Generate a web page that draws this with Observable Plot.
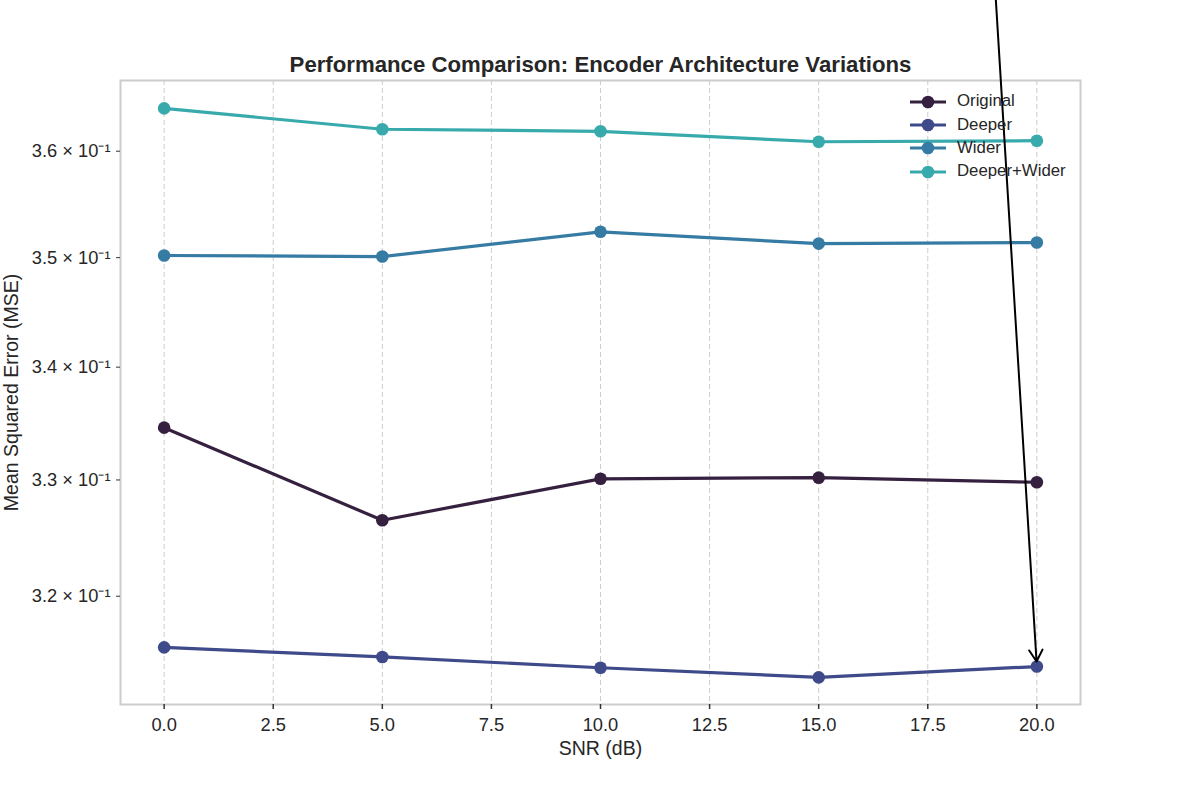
<!DOCTYPE html>
<html>
<head>
<meta charset="utf-8">
<script src="https://cdn.jsdelivr.net/npm/d3@7"></script>
<script src="https://cdn.jsdelivr.net/npm/@observablehq/plot@0.6"></script>
<style>
  html, body { margin: 0; padding: 0; background: #fff; }
  #wrap { position: relative; width: 1200px; height: 800px; font-family: "Liberation Sans", Arial, sans-serif; }
  #legend { position: absolute; left: 909px; top: 90px; pointer-events: none; }
  .li { display: flex; align-items: center; height: 23.4px; }
  .li svg { display: block; margin-right: 10px; }
  .li span { font-size: 16.8px; color: #262626; line-height: 1; }
</style>
</head>
<body>
<div id="wrap"><div id="chart"></div><div id="legend"></div></div>
<script>
const snr = [0, 5, 10, 15, 20];
const seriesNames = ["Original", "Deeper", "Wider", "Deeper+Wider"];
const colors = ["#35213f", "#3e4a89", "#357ba3", "#38aaac"];
const original = [0.3346, 0.3265, 0.3301, 0.3302, 0.3298];
const deeper = [0.3157, 0.3149, 0.3140, 0.3132, 0.3141];
const wider = [0.3502, 0.3501, 0.3524, 0.3513, 0.3514];
const deeperWider = [0.3641, 0.3621, 0.3619, 0.3609, 0.3610];
const xTicks = [0, 2.5, 5, 7.5, 10, 12.5, 15, 17.5, 20];
const yTicks = [0.32, 0.33, 0.34, 0.35, 0.36];
const yTickLabels = ["3.2 × 10⁻¹", "3.3 × 10⁻¹", "3.4 × 10⁻¹", "3.5 × 10⁻¹", "3.6 × 10⁻¹"];
const title = "Performance Comparison: Encoder Architecture Variations";
const xLabel = "SNR (dB)";
const yLabel = "Mean Squared Error (MSE)";
// annotation arrow: from (x1,y1) to the Deeper point at 20 dB
const arrowFrom = {x: 19.06, y: 0.3747};

const valuesBySeries = [original, deeper, wider, deeperWider];
const data = [];
seriesNames.forEach((s, i) => snr.forEach((x, j) => data.push({series: s, snr: x, mse: valuesBySeries[i][j]})));
const arrowData = [{x1: arrowFrom.x, y1: arrowFrom.y, x2: snr[4], y2: deeper[4]}];

const chart = Plot.plot({
  width: 1200,
  height: 800,
  marginTop: 80,
  marginRight: 120,
  marginBottom: 96,
  marginLeft: 120,
  style: {fontFamily: "'Liberation Sans', Arial, sans-serif", fontSize: "18px", color: "#262626", background: "transparent"},
  x: {domain: [-1, 21]},
  y: {type: "log", domain: [0.31096, 0.3668]},
  color: {domain: seriesNames, range: colors},
  marks: [
    Plot.gridX(xTicks, {stroke: "#cccccc", strokeOpacity: 1, strokeDasharray: "5,3", strokeWidth: 1}),
    Plot.frame({stroke: "#cccccc", strokeWidth: 2}),
    Plot.axisX({ticks: xTicks, tickFormat: d => d.toFixed(1), tickSize: 5, tickPadding: 8, stroke: "#333", strokeWidth: 1.5, fontSize: 18.3, label: null}),
    Plot.axisX({ticks: [], tickSize: 0, label: xLabel, labelAnchor: "center", labelArrow: "none", labelOffset: 50, fontSize: 19.5}),
    Plot.axisY({ticks: yTicks, tickFormat: d => yTickLabels[yTicks.indexOf(d)], tickSize: 4, tickPadding: 6, stroke: "#333", fontSize: 18.3, label: null}),
    Plot.axisY({ticks: [], tickSize: 0, label: yLabel, labelAnchor: "center", labelArrow: "none", labelOffset: 116, fontSize: 19.5}),
    Plot.line(data, {x: "snr", y: "mse", z: "series", stroke: "series", strokeWidth: 3.2}),
    Plot.dot(data, {x: "snr", y: "mse", fill: "series", r: 6.3}),
    Plot.arrow(arrowData, {x1: "x1", y1: "y1", x2: "x2", y2: "y2", stroke: "black", strokeWidth: 2, headLength: 10, insetEnd: 5}),
    Plot.text([title], {text: d => d, frameAnchor: "top", dy: -24, fontSize: 22.2, fontWeight: "bold", fill: "#262626"})
  ]
});
document.getElementById("chart").appendChild(chart);

const legend = document.getElementById("legend");
seriesNames.forEach((s, i) => {
  const row = document.createElement("div");
  row.className = "li";
  row.innerHTML = `<svg width="38" height="16"><line x1="1" y1="8" x2="37" y2="8" stroke="${colors[i]}" stroke-width="3.2"/><circle cx="19" cy="8" r="6.3" fill="${colors[i]}"/></svg><span>${s}</span>`;
  legend.appendChild(row);
});
</script>
</body>
</html>
